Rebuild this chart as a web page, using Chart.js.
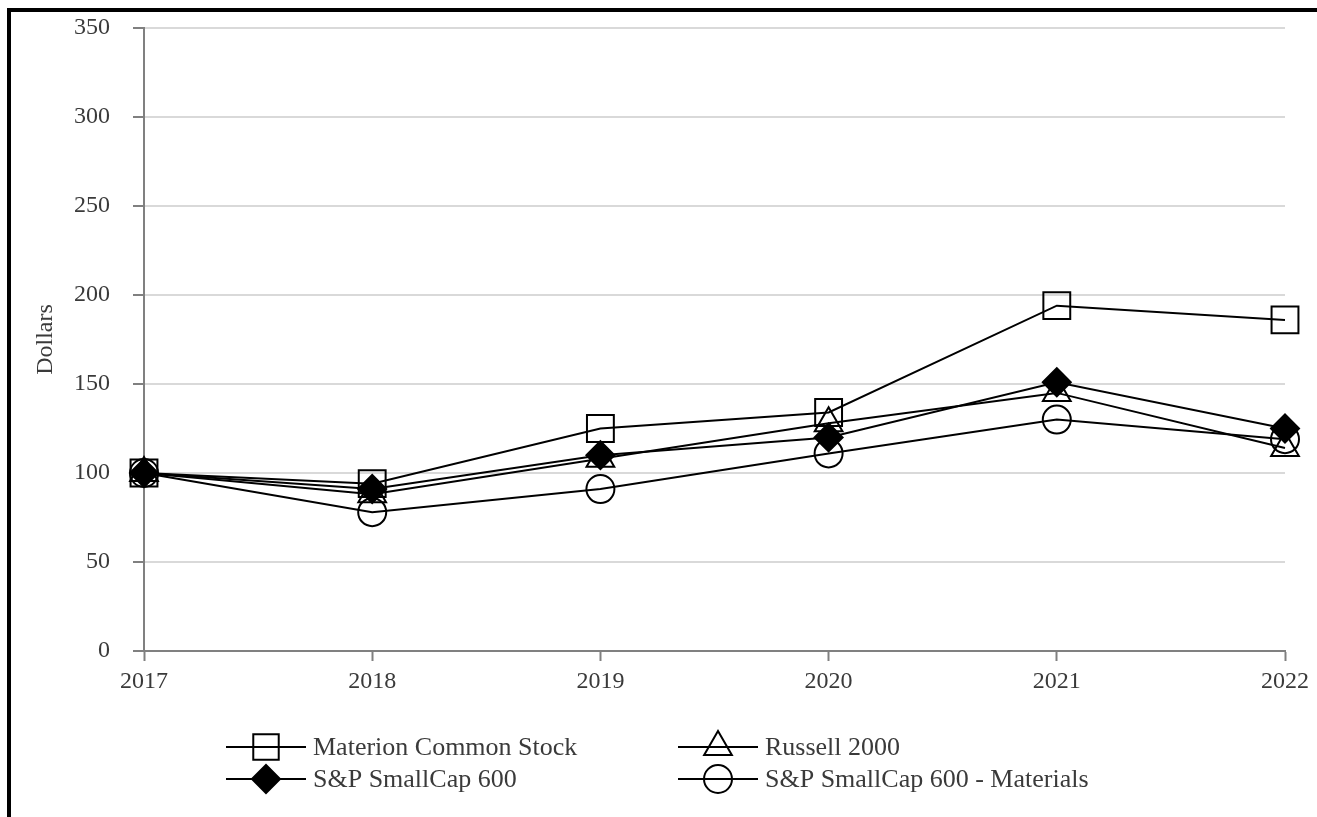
<!DOCTYPE html>
<html>
<head>
<meta charset="utf-8">
<script src="https://cdn.jsdelivr.net/npm/chart.js@4/dist/chart.umd.min.js"></script>
<style>
  html, body { margin: 0; padding: 0; background: #ffffff; }
  #wrap { position: relative; width: 1317px; height: 817px; overflow: hidden; }
  #frame { position: absolute; left: 7px; top: 8px; width: 1320px; height: 820px;
           border-left: 4px solid #000; border-top: 4px solid #000; box-sizing: border-box; pointer-events: none; }
  canvas { position: absolute; left: 0; top: 0; }
</style>
</head>
<body>
<div id="wrap">
  <canvas id="chart" width="1317" height="817"></canvas>
  <div id="frame"></div>
</div>
<script>
// Cumulative value of a $100 investment, year-end
const years = ['2017', '2018', '2019', '2020', '2021', '2022'];
const materion = [100, 94, 125, 134, 194, 186];
const russell2000 = [100, 88, 108, 128, 145, 114];
const sp600 = [100, 91, 110, 120, 151, 125];
const sp600Materials = [100, 78, 91, 111, 130, 119];
const yTicks = [0, 50, 100, 150, 200, 250, 300, 350];

const FAMILY = '"Liberation Serif", "Times New Roman", serif';
const AXIS_FONT = { family: FAMILY, size: 24 };
const LEGEND_SIZE = 26;
const TEXT = '#3a3a3a';
const AXIS = '#808080';

const series = [
  { label: 'Materion Common Stock', data: materion, pointStyle: 'rect', radius: 19, fill: 'rgba(0,0,0,0)' },
  { label: 'Russell 2000', data: russell2000, pointStyle: 'triangle', radius: 16, fill: 'rgba(0,0,0,0)' },
  { label: 'S&P SmallCap 600', data: sp600, pointStyle: 'rectRot', radius: 14, fill: '#000000' },
  { label: 'S&P SmallCap 600 - Materials', data: sp600Materials, pointStyle: 'circle', radius: 14, fill: 'rgba(0,0,0,0)' }
];

// Legend: two columns, two rows, line with marker through it
const legendPlugin = {
  id: 'seriesLegend',
  afterDraw(chart) {
    const ctx = chart.ctx;
    const cols = [226, 678];
    const rows = [747, 779];
    series.forEach((s, i) => {
      const x0 = cols[i % 2];
      const y = rows[Math.floor(i / 2)];
      ctx.save();
      ctx.strokeStyle = '#000';
      ctx.lineWidth = 2;
      ctx.beginPath();
      ctx.moveTo(x0, y);
      ctx.lineTo(x0 + 80, y);
      ctx.stroke();
      ctx.fillStyle = s.fill;
      Chart.helpers.drawPoint(ctx, {
        pointStyle: s.pointStyle,
        radius: s.radius - (s.pointStyle === 'rect' ? 1 : 0),
        rotation: 0,
        borderWidth: 2
      }, x0 + 40, y);
      ctx.fillStyle = TEXT;
      ctx.font = LEGEND_SIZE + 'px ' + FAMILY;
      ctx.textAlign = 'left';
      ctx.textBaseline = 'middle';
      ctx.fillText(s.label, x0 + 87, y + 1);
      ctx.restore();
    });
  }
};

new Chart(document.getElementById('chart'), {
  type: 'line',
  data: {
    labels: years,
    datasets: series.map(s => ({
      label: s.label,
      data: s.data,
      borderColor: '#000000',
      borderWidth: 2,
      tension: 0,
      fill: false,
      pointStyle: s.pointStyle,
      pointRadius: s.radius,
      pointHoverRadius: s.radius,
      pointBorderColor: '#000000',
      pointBorderWidth: 2,
      pointBackgroundColor: s.fill
    }))
  },
  options: {
    responsive: false,
    devicePixelRatio: 1,
    animation: false,
    events: [],
    layout: { padding: { left: 12, top: 28, right: 32, bottom: 126 } },
    plugins: {
      legend: { display: false },
      tooltip: { enabled: false }
    },
    scales: {
      x: {
        type: 'category',
        offset: false,
        afterFit(scale) { scale.height = 40; },
        border: { color: AXIS, width: 2 },
        grid: { drawOnChartArea: false, drawTicks: true, tickLength: 10, tickColor: AXIS, tickWidth: 2 },
        ticks: { color: TEXT, font: AXIS_FONT, padding: 6, maxRotation: 0 }
      },
      y: {
        min: 0,
        max: 350,
        afterFit(scale) {
          scale.width = 132;
          scale.paddingTop = 0;
          scale.paddingBottom = 0;
        },
        afterBuildTicks(scale) { scale.ticks = yTicks.map(v => ({ value: v })); },
        border: { color: AXIS, width: 2 },
        grid: { color: '#d9d9d9', lineWidth: 2, drawTicks: true, tickLength: 11, tickColor: AXIS, tickWidth: 2 },
        ticks: { color: TEXT, font: AXIS_FONT, padding: 23 },
        title: { display: true, text: 'Dollars', color: TEXT, font: AXIS_FONT, padding: { top: 19, bottom: 0 } }
      }
    }
  },
  plugins: [legendPlugin]
});
</script>
</body>
</html>
